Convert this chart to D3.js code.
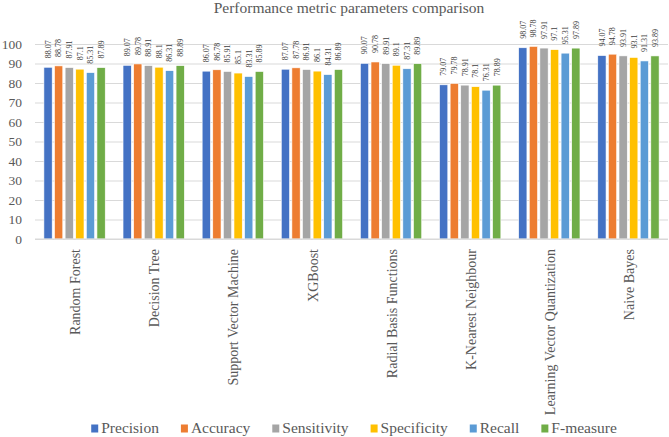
<!DOCTYPE html>
<html>
<head>
<meta charset="utf-8">
<script src="https://cdn.jsdelivr.net/npm/d3@7"></script>
<style>
  html, body { margin: 0; padding: 0; background: #ffffff; }
  svg { display: block; }
</style>
</head>
<body>
<div id="chart"></div>
<script>
const titleText = "Performance metric parameters comparison";
const categories = ["Random Forest", "Decision Tree", "Support Vector Machine", "XGBoost",
  "Radial Basis Functions", "K-Nearest Neighbour", "Learning Vector Quantization", "Naive Bayes"];
const seriesNames = ["Precision", "Accuracy", "Sensitivity", "Specificity", "Recall", "F-measure"];
const precision   = [88.07, 89.07, 86.07, 87.07, 90.07, 79.07, 98.07, 94.07];
const accuracy    = [88.78, 89.78, 86.78, 87.78, 90.78, 79.78, 98.78, 94.78];
const sensitivity = [87.91, 88.91, 85.91, 86.91, 89.91, 78.91, 97.91, 93.91];
const specificity = [87.1, 88.1, 85.1, 86.1, 89.1, 78.1, 97.1, 93.1];
const recall      = [85.31, 86.31, 83.31, 84.31, 87.31, 76.31, 95.31, 91.31];
const fmeasure    = [87.89, 88.89, 85.89, 86.89, 89.89, 78.89, 97.89, 93.89];
const yTicks = [0, 10, 20, 30, 40, 50, 60, 70, 80, 90, 100];
const colors = ["#4472C4", "#ED7D31", "#A5A5A5", "#FFC000", "#5B9BD5", "#70AD47"];

const seriesValues = [precision, accuracy, sensitivity, specificity, recall, fmeasure];

const W = 669, H = 437;
const FONT = "'Liberation Serif', 'Times New Roman', serif";
const margin = { left: 35, right: 1, top: 44, bottom: H - 239 };

const svg = d3.select("#chart").append("svg")
  .attr("width", W).attr("height", H)
  .style("font-family", FONT);

const x0 = d3.scaleBand().domain(categories)
  .range([margin.left, W - margin.right])
  .paddingInner(0.225).paddingOuter(0.1125);
const x1 = d3.scaleBand().domain(seriesNames)
  .range([0, x0.bandwidth()])
  .paddingInner(0.22).paddingOuter(0);
const y = d3.scaleLinear().domain([0, 100]).range([H - margin.bottom, margin.top]);

// title
svg.append("text")
  .attr("x", 349).attr("y", 13)
  .attr("text-anchor", "middle")
  .style("font-size", "15.5px").style("fill", "#595959")
  .text(titleText);

// gridlines + y labels via axis
const yAxis = d3.axisLeft(y).tickValues(yTicks).tickSize(-(W - margin.right - margin.left)).tickPadding(13);
const gy = svg.append("g").attr("transform", `translate(${margin.left},0)`).call(yAxis);
gy.select(".domain").remove();
gy.selectAll(".tick line").attr("stroke", "#d9d9d9").attr("stroke-width", 1);
gy.selectAll(".tick text")
  .style("font-family", FONT).style("font-size", "13.5px").style("fill", "#595959");

// bars
const groups = svg.append("g").selectAll("g")
  .data(categories).join("g")
  .attr("transform", d => `translate(${x0(d)},0)`);

groups.each(function(cat, ci) {
  const g = d3.select(this);
  const rows = seriesNames.map((s, si) => ({ s, si, v: seriesValues[si][ci] }));
  g.selectAll("rect").data(rows).join("rect")
    .attr("x", d => x1(d.s))
    .attr("y", d => y(d.v))
    .attr("width", x1.bandwidth())
    .attr("height", d => y(0) - y(d.v))
    .attr("fill", d => colors[d.si])
    .attr("stroke", "#ffffff").attr("stroke-width", 0.6);
  g.selectAll("text.lbl").data(rows).join("text")
    .attr("class", "lbl")
    .attr("transform", d => `translate(${x1(d.s) + x1.bandwidth() / 2},${y(d.v) - 9}) rotate(-90)`)
    .attr("dy", "0.35em")
    .attr("text-anchor", "start")
    .style("font-size", "8px").style("fill", "#404040")
    .text(d => d.v);
});

// baseline
svg.append("line")
  .attr("x1", margin.left).attr("x2", W - margin.right)
  .attr("y1", y(0)).attr("y2", y(0))
  .attr("stroke", "#d9d9d9").attr("stroke-width", 1);

// category labels
svg.append("g").selectAll("text").data(categories).join("text")
  .attr("transform", d => `translate(${x0(d) + x0.bandwidth() / 2},${y(0) + 10}) rotate(-90)`)
  .attr("dy", "0.4em")
  .attr("text-anchor", "end")
  .style("font-size", "14px").style("fill", "#595959")
  .text(d => d);

// legend
const leg = svg.append("g");
const items = leg.selectAll("g").data(seriesNames).join("g");
items.append("rect").attr("width", 7).attr("height", 8).attr("y", -8.5)
  .attr("fill", (d, i) => colors[i]);
items.append("text").attr("x", 10).attr("y", 0)
  .style("font-size", "15.5px").style("fill", "#595959")
  .text(d => d);
let cx = 0;
const positions = [];
items.each(function() {
  const w = d3.select(this).select("text").node().getComputedTextLength();
  positions.push(cx);
  cx += 10 + w + 22;
});
const totalW = cx - 22;
const startX = 354 - totalW / 2;
items.attr("transform", (d, i) => `translate(${startX + positions[i]},433)`);
</script>
</body>
</html>
